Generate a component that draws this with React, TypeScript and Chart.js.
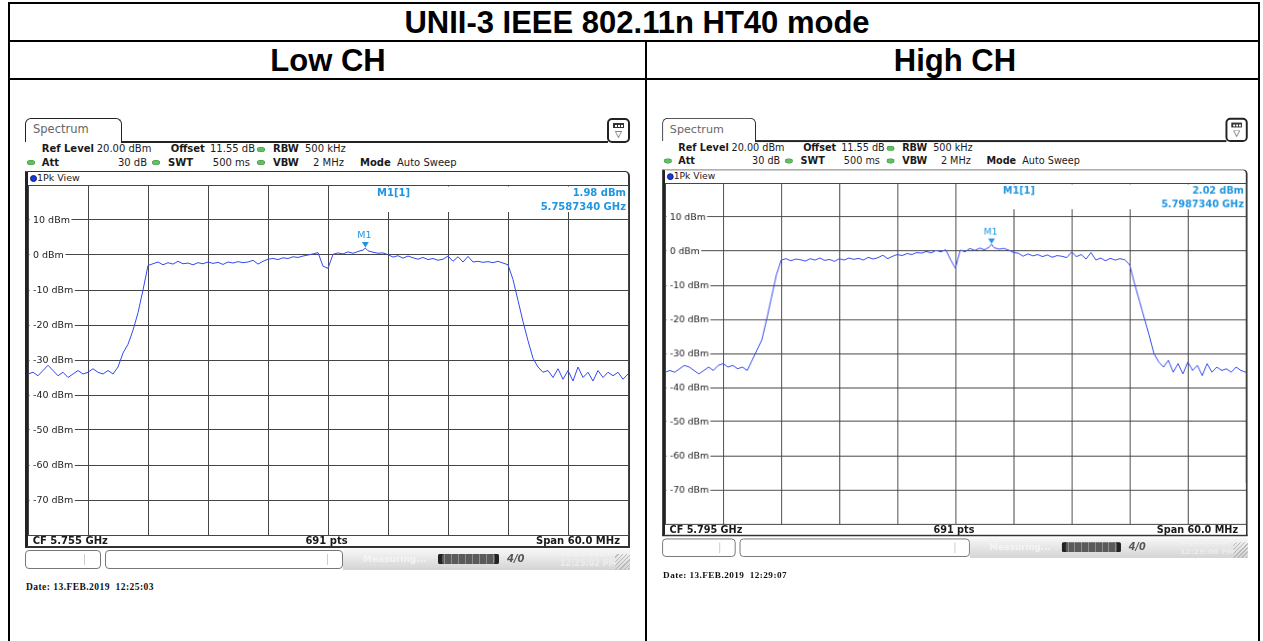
import React, { useEffect, useRef } from "react";
import { Chart, registerables } from "chart.js";

Chart.register(...registerables);

// ---------------- data ----------------
const SPAN_START_MHZ = -30;
const SPAN_END_MHZ = 30;
const SAMPLE_STEP_MHZ = 0.5;
const REF_LEVEL_DBM = 20;
const BOTTOM_DBM = -80;
const Y_TICK_LABELS = [10, 0, -10, -20, -30, -40, -50, -60, -70];

// trace samples, every 0.5 MHz from -30 MHz to +30 MHz around the centre frequency
const LOW_CH_DBM = [
  -34.0, -33.5, -34.5, -33.0, -31.5, -33.0, -34.5, -33.5, -35.0, -34.0,
  -33.0, -34.0, -33.5, -32.5, -33.5, -34.0, -33.0, -34.0, -32.0, -28.0,
  -25.5, -21.5, -16.5, -10.0, -3.0, -2.5, -2.0, -2.8, -2.2, -2.6,
  -1.8, -2.5, -2.3, -2.8, -2.2, -2.5, -2.0, -2.4, -2.1, -2.7,
  -2.0, -2.3, -1.9, -2.2, -2.0, -1.5, -2.6, -1.8, -1.2, -1.0,
  -1.3, -0.8, -1.0, -0.5, -0.7, -0.3, 0.0, 0.3, 0.7, -3.2,
  -3.8, 0.2, 0.6, 0.3, 0.9, 0.5, 1.0, 1.4, 1.2, 0.8,
  0.5, 0.6, 0.1, -0.6, -0.2, -0.9, -0.3, -0.8, -1.2, -0.7,
  -1.3, -1.0, -1.5, -1.2, -0.3, -1.8, -0.5, -2.0, -0.4, -2.0,
  -1.8, -2.1, -1.9, -2.2, -1.8, -2.3, -2.8, -7.0, -13.0, -19.0,
  -24.5, -29.5, -32.0, -33.5, -33.0, -35.0, -32.5, -35.5, -33.0, -36.0,
  -32.0, -35.0, -33.5, -36.0, -33.0, -35.0, -33.5, -34.5, -33.5, -35.5,
  -34.0,
];

const HIGH_CH_DBM = [
  -35.5, -35.0, -35.5, -34.5, -33.5, -34.0, -35.0, -36.0, -35.0, -34.0,
  -35.0, -33.5, -33.0, -34.0, -33.5, -34.5, -34.0, -35.0, -32.0, -29.0,
  -26.0, -20.0, -13.5, -7.0, -2.6, -2.2, -2.8, -2.3, -2.5, -2.9,
  -2.2, -2.6, -2.0, -2.7, -2.4, -3.0, -2.2, -2.6, -2.0, -2.4,
  -2.1, -2.6, -1.8, -2.3, -1.9, -1.2, -2.2, -1.5, -1.0, -1.3,
  -0.7, -1.0, -0.4, -0.6, -0.1, -0.5, 0.2, -0.2, 0.4, -2.5,
  -5.0, 0.3, -0.2, 0.8, 0.2, 0.9, 0.4, 1.2, 1.0, 0.6,
  0.8, 0.3, -0.4, -0.6, -1.5, -0.8, -1.4, -1.0, -1.6, -1.1,
  -1.8, -1.3, -1.5, -1.9, -0.2, -1.6, -1.0, -2.3, -0.4, -2.6,
  -2.0, -2.8, -2.1, -2.6, -2.2, -2.5, -4.0, -9.5, -14.5, -19.5,
  -24.5, -30.0, -32.5, -34.0, -32.0, -35.5, -33.0, -36.0, -32.5, -35.0,
  -33.5, -36.5, -33.0, -35.5, -34.0, -35.0, -34.5, -35.5, -34.0, -35.0,
  -35.5,
];

const LOW_MARKER = { label: "M1", offsetMHz: 3.734, dBm: 1.98, levelText: "1.98 dBm", freqText: "5.7587340 GHz" };
const HIGH_MARKER = { label: "M1", offsetMHz: 3.734, dBm: 2.02, levelText: "2.02 dBm", freqText: "5.7987340 GHz" };

// ---------------- styling ----------------
const RS_FONT = '"DejaVu Sans", Verdana, sans-serif';
const TABLE_FONT = '"Liberation Sans", Arial, sans-serif';
const TRACE_COLOR = "rgb(50,72,240)";
const MARKER_COLOR = "#2196e0";
const GRID_COLOR = "#454545";

function Txt(props: any) {
  const { x, y, s = 10, b = false, c = "#1a1a1a", a = "left", f = RS_FONT, it = false, ls = 0, children } = props;
  const tx = a === "left" ? "0" : a === "right" ? "-100%" : "-50%";
  return (
    <div
      style={{
        position: "absolute",
        left: x,
        top: y,
        transform: `translate(${tx},-50%)`,
        fontFamily: f,
        fontSize: s,
        fontWeight: b ? "bold" : "normal",
        fontStyle: it ? "italic" : "normal",
        letterSpacing: ls,
        color: c,
        lineHeight: 1,
        whiteSpace: "pre",
      }}
    >
      {children}
    </div>
  );
}

function Dot({ x, y }: any) {
  return (
    <div
      style={{
        position: "absolute",
        left: x,
        top: y - 2.5,
        width: 8,
        height: 5,
        borderRadius: "50%",
        background: "#62bf62",
        boxShadow: "inset 0 0 0 0.5px #3e8e3e",
      }}
    />
  );
}

function buildPoints(values: number[], marker: any) {
  const pts = values.map((v, i) => ({ x: SPAN_START_MHZ + i * SAMPLE_STEP_MHZ, y: v }));
  pts.push({ x: marker.offsetMHz, y: marker.dBm });
  pts.sort((p, q) => p.x - q.x);
  return pts;
}

function Panel(props: any) {
  const { transform, values, marker, cfText, dateText, statusDate, statusTime } = props;
  const canvasRef = useRef<HTMLCanvasElement>(null);

  useEffect(() => {
    const overlay = {
      id: "rsOverlay",
      beforeDatasetsDraw(chart: any) {
        const { ctx, chartArea: a, scales } = chart;
        ctx.save();
        ctx.font = `9.5px ${RS_FONT}`;
        ctx.textBaseline = "middle";
        ctx.textAlign = "left";
        for (const v of Y_TICK_LABELS) {
          const py = scales.y.getPixelForValue(v);
          const label = `${v} dBm`;
          const w = ctx.measureText(label).width;
          ctx.fillStyle = "#fff";
          ctx.fillRect(a.left + 1.5, py - 6, 3.5 + w + 1.5, 12);
          ctx.fillStyle = "#222";
          ctx.fillText(label, a.left + 5, py + 0.5);
        }
        // marker table overlay
        const x0 = scales.x.getPixelForValue(0) + 1.5;
        ctx.fillStyle = "#fff";
        ctx.fillRect(x0, a.top + 1.5, a.right - x0 - 1, 25.5);
        ctx.fillStyle = MARKER_COLOR;
        ctx.font = `bold 10px ${RS_FONT}`;
        ctx.textAlign = "left";
        ctx.fillText(`${marker.label}[1]`, a.left + 349, a.top + 8.5);
        ctx.textAlign = "right";
        ctx.fillText(marker.levelText, a.right - 2, a.top + 8.5);
        ctx.fillText(marker.freqText, a.right - 2, a.top + 22);
        ctx.restore();
      },
      afterDatasetsDraw(chart: any) {
        const { ctx, scales } = chart;
        const px = scales.x.getPixelForValue(marker.offsetMHz);
        const py = scales.y.getPixelForValue(marker.dBm);
        ctx.save();
        ctx.fillStyle = MARKER_COLOR;
        ctx.beginPath();
        ctx.moveTo(px - 3.5, py - 6);
        ctx.lineTo(px + 3.5, py - 6);
        ctx.lineTo(px, py - 0.5);
        ctx.closePath();
        ctx.fill();
        ctx.font = `9.5px ${RS_FONT}`;
        ctx.textAlign = "center";
        ctx.textBaseline = "middle";
        ctx.fillText(marker.label, px - 1, py - 12.5);
        ctx.restore();
      },
    };

    const chart = new Chart(canvasRef.current as HTMLCanvasElement, {
      type: "line",
      data: {
        datasets: [
          {
            data: buildPoints(values, marker),
            borderColor: TRACE_COLOR,
            borderWidth: 1,
            pointRadius: 0,
            tension: 0,
            fill: false,
          },
        ],
      },
      options: {
        responsive: false,
        maintainAspectRatio: false,
        animation: false,
        devicePixelRatio: 1,
        events: [],
        layout: { padding: { left: 1, top: 1, right: 2, bottom: 2 } },
        plugins: { legend: { display: false }, tooltip: { enabled: false } },
        scales: {
          x: {
            type: "linear",
            min: SPAN_START_MHZ,
            max: SPAN_END_MHZ,
            ticks: { display: false, stepSize: 6 },
            grid: { color: GRID_COLOR, lineWidth: 1, drawTicks: false },
            border: { display: true, color: GRID_COLOR },
          },
          y: {
            type: "linear",
            min: BOTTOM_DBM,
            max: REF_LEVEL_DBM,
            ticks: { display: false, stepSize: 10 },
            grid: { color: GRID_COLOR, lineWidth: 1, drawTicks: false },
            border: { display: true, color: GRID_COLOR },
          },
        },
      } as any,
      plugins: [overlay],
    });
    return () => chart.destroy();
  }, []);

  return (
    <div
      style={{
        position: "absolute",
        left: 0,
        top: 0,
        width: 606,
        height: 480,
        transformOrigin: "0 0",
        transform,
      }}
    >
      {/* Spectrum tab */}
      <div
        style={{
          position: "absolute",
          left: 0,
          top: 0,
          width: 97,
          height: 24,
          boxSizing: "border-box",
          border: "1px solid #222",
          borderBottom: "none",
          borderRadius: "6px 6px 0 0",
          background: "#fff",
        }}
      />
      <Txt x={8} y={12} s={11.5} c="#666">Spectrum</Txt>
      <div style={{ position: "absolute", left: 96, top: 23, width: 487, height: 2, background: "#222" }} />
      {/* icon box */}
      <div
        style={{
          position: "absolute",
          left: 582,
          top: 0,
          width: 23,
          height: 25,
          boxSizing: "border-box",
          border: "2px solid #222",
          borderRadius: 5,
          background: "#fff",
        }}
      >
        <div style={{ position: "absolute", left: 4, top: 3, width: 11, height: 5, background: "#333" }}>
          <div style={{ position: "absolute", left: 2, top: 1.5, width: 2, height: 2, background: "#fff" }} />
          <div style={{ position: "absolute", left: 5, top: 1.5, width: 2, height: 2, background: "#fff" }} />
          <div style={{ position: "absolute", left: 8, top: 1.5, width: 2, height: 2, background: "#fff" }} />
        </div>
        <Txt x={9.5} y={14} s={9} a="center" c="#222">▽</Txt>
      </div>

      {/* header line 1 */}
      <Txt x={16.7} y={31} b>Ref Level</Txt>
      <Txt x={71.7} y={31}>20.00 dBm</Txt>
      <Txt x={145.7} y={31} b>Offset</Txt>
      <Txt x={185} y={31}>11.55 dB</Txt>
      <Dot x={232} y={31} />
      <Txt x={248} y={31} b>RBW</Txt>
      <Txt x={280} y={31}>500 kHz</Txt>
      {/* header line 2 */}
      <Dot x={2} y={44.7} />
      <Txt x={16.7} y={44.7} b>Att</Txt>
      <Txt x={122} y={44.7} a="right">30 dB</Txt>
      <Dot x={126.5} y={44.7} />
      <Txt x={143} y={44.7} b>SWT</Txt>
      <Txt x={225} y={44.7} a="right">500 ms</Txt>
      <Dot x={232} y={44.7} />
      <Txt x={248} y={44.7} b>VBW</Txt>
      <Txt x={288} y={44.7}>2 MHz</Txt>
      <Txt x={335} y={44.7} b>Mode</Txt>
      <Txt x={372} y={44.7}>Auto Sweep</Txt>

      {/* diagram frame */}
      <div
        style={{
          position: "absolute",
          left: 0,
          top: 53,
          width: 605,
          height: 377,
          boxSizing: "border-box",
          borderTop: "1px solid #333",
          borderRight: "2px solid #333",
          borderBottom: "2px solid #333",
          borderLeft: "3px solid #222",
          borderTopRightRadius: 5,
        }}
      />
      <div
        style={{
          position: "absolute",
          left: 4.5,
          top: 56.5,
          width: 7,
          height: 7,
          boxSizing: "border-box",
          borderRadius: "50%",
          background: "#1438e6",
          border: "1px solid #102070",
        }}
      />
      <Txt x={12} y={60} s={9.5}>1Pk View</Txt>

      <canvas
        ref={canvasRef}
        width={603}
        height={353}
        style={{ position: "absolute", left: 2, top: 66, width: 603, height: 353 }}
      />

      {/* footer */}
      <Txt x={7.7} y={423} b>{cfText}</Txt>
      <Txt x={301.5} y={423} b a="center">691 pts</Txt>
      <Txt x={595} y={423} b a="right">Span 60.0 MHz</Txt>

      {/* status bar */}
      <div
        style={{
          position: "absolute",
          left: 0,
          top: 432,
          width: 76,
          height: 19,
          boxSizing: "border-box",
          border: "1px solid #777",
          borderRadius: 4,
          background: "#fff",
        }}
      >
        <div style={{ position: "absolute", left: 58, top: 3, width: 1, height: 11, background: "#ccc" }} />
      </div>
      <div
        style={{
          position: "absolute",
          left: 80,
          top: 432,
          width: 238,
          height: 19,
          boxSizing: "border-box",
          border: "1px solid #777",
          borderRadius: 4,
          background: "#fff",
        }}
      >
        <div style={{ position: "absolute", left: 221, top: 3, width: 1, height: 11, background: "#ccc" }} />
      </div>
      <div
        style={{
          position: "absolute",
          left: 318,
          top: 431,
          width: 287,
          height: 21,
          background: "linear-gradient(to bottom, #f7f7f7, #d4d4d4)",
        }}
      >
        <Txt x={20} y={10} s={9} b c="#f4f4f4">Measuring...</Txt>
        <div
          style={{
            position: "absolute",
            left: 95,
            top: 5,
            width: 61,
            height: 10,
            borderRadius: 2,
            background: "repeating-linear-gradient(to right, #5a5a5a 0 6px, #8c8c8c 6px 7px)",
            boxShadow: "inset 4px 0 0 #222, inset -4px 0 0 #222",
          }}
        />
        <Txt x={164} y={10} s={10} b it c="#555">4/0</Txt>
        <Txt x={217} y={5} s={8} b c="#f2f2f2">{statusDate}</Txt>
        <Txt x={217} y={15} s={8} b c="#ececec">{statusTime}</Txt>
        <div
          style={{
            position: "absolute",
            left: 272,
            top: 5,
            width: 15,
            height: 16,
            background: "repeating-linear-gradient(135deg, transparent 0 2px, #b8b8b8 2px 3px)",
          }}
        />
      </div>

      {/* capture date */}
      <Txt x={1} y={470} s={9.5} b ls={0.45} f={'"Liberation Serif", "Times New Roman", serif'} c="#111">
        {dateText}
      </Txt>
    </div>
  );
}

export default function App() {
  return (
    <div
      style={{
        position: "fixed",
        left: 0,
        top: 0,
        width: 1263,
        height: 641,
        background: "#fff",
        overflow: "hidden",
      }}
    >
      {/* table grid */}
      <div style={{ position: "absolute", left: 8, top: 2, width: 1252, height: 2, background: "#000" }} />
      <div style={{ position: "absolute", left: 8, top: 40, width: 1252, height: 2, background: "#000" }} />
      <div style={{ position: "absolute", left: 8, top: 78, width: 1252, height: 2, background: "#000" }} />
      <div style={{ position: "absolute", left: 8, top: 2, width: 2, height: 645, background: "#000" }} />
      <div style={{ position: "absolute", left: 1258, top: 2, width: 2, height: 645, background: "#000" }} />
      <div style={{ position: "absolute", left: 645, top: 40, width: 2, height: 605, background: "#000" }} />

      <Txt x={637} y={22} s={31} b a="center" f={TABLE_FONT} c="#000">UNII-3 IEEE 802.11n HT40 mode</Txt>
      <Txt x={328} y={60} s={31} b a="center" f={TABLE_FONT} c="#000">Low CH</Txt>
      <Txt x={955} y={60} s={31} b a="center" f={TABLE_FONT} c="#000">High CH</Txt>

      <Panel
        transform="translate(25px,118px)"
        values={LOW_CH_DBM}
        marker={LOW_MARKER}
        cfText="CF 5.755 GHz"
        dateText="Date: 13.FEB.2019  12:25:03"
        statusDate="02/13/2019"
        statusTime="12:25:02 PM"
      />
      <Panel
        transform="translate(662.1px,117.7px) scale(0.968,0.974)"
        values={HIGH_CH_DBM}
        marker={HIGH_MARKER}
        cfText="CF 5.795 GHz"
        dateText="Date: 13.FEB.2019  12:29:07"
        statusDate="02/13/2019"
        statusTime="12:29:06 PM"
      />
    </div>
  );
}
